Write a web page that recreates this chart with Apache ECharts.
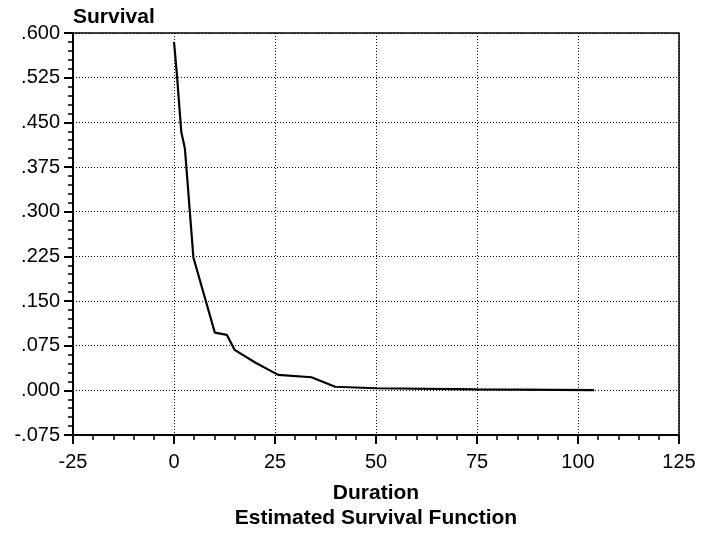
<!DOCTYPE html>
<html>
<head>
<meta charset="utf-8">
<script src="https://cdn.jsdelivr.net/npm/echarts@6/dist/echarts.min.js"></script>
<style>
html,body{margin:0;padding:0;background:#fff;}
#chart{width:701px;height:534px;}
</style>
</head>
<body>
<div id="chart"></div>
<script>
// Data
var durations = [0, 0.7, 1.8, 2.7, 4.8, 10.1, 13.1, 15.0, 20.3, 25.8, 34.0, 39.9, 50, 75, 104];
var survival  = [0.585, 0.532, 0.434, 0.406, 0.223, 0.097, 0.093, 0.068, 0.046, 0.026, 0.022, 0.006, 0.0035, 0.0015, 0.0003];
var xTicks = [-25, 0, 25, 50, 75, 100, 125];
var yTicks = [-0.075, 0, 0.075, 0.15, 0.225, 0.3, 0.375, 0.45, 0.525, 0.6];
var yTitle = 'Survival';
var xTitle = 'Duration';
var chartTitle = 'Estimated Survival Function';

var points = durations.map(function (d, i) { return [d, survival[i]]; });

function fmtY(v) {
  if (Math.abs(v) < 1e-9) return '.000';
  var s = Math.abs(v).toFixed(3).replace(/^0/, '');
  return (v < 0 ? '-' : '') + s;
}

var font = 'Liberation Sans, Arial, sans-serif';
var chart = echarts.init(document.getElementById('chart'), null, {renderer: 'canvas'});
chart.setOption({
  animation: false,
  backgroundColor: '#fff',
  title: {
    text: yTitle,
    left: 73,
    top: 7,
    padding: 0,
    textStyle: {fontFamily: font, fontSize: 21, fontWeight: 'bold', color: '#000'}
  },
  grid: {
    left: 73, right: 22, top: 33, bottom: 99,
    containLabel: false,
    outerBoundsMode: 'none',
    show: true, borderColor: '#000', borderWidth: 1.5, backgroundColor: 'transparent'
  },
  xAxis: {
    type: 'value',
    min: xTicks[0], max: xTicks[xTicks.length - 1], interval: 25,
    name: xTitle + '\n' + chartTitle,
    nameLocation: 'middle',
    nameGap: 46,
    nameTextStyle: {fontFamily: font, fontSize: 21, fontWeight: 'bold', color: '#000', lineHeight: 25, verticalAlign: 'top'},
    axisLine: {show: true, onZero: false, lineStyle: {color: '#000', width: 2}},
    axisTick: {show: true, inside: false, length: 9, lineStyle: {color: '#000', width: 2}},
    minorTick: {show: true, splitNumber: 5, length: 5, lineStyle: {color: '#000', width: 1.5}},
    axisLabel: {fontFamily: font, fontSize: 20, color: '#000', margin: 17},
    splitLine: {show: true, lineStyle: {color: '#000', width: 1, type: [1, 2]}}
  },
  yAxis: {
    type: 'value',
    min: yTicks[0], max: yTicks[yTicks.length - 1], interval: 0.075,
    axisLine: {show: true, onZero: false, lineStyle: {color: '#000', width: 2}},
    axisTick: {show: true, inside: false, length: 9, lineStyle: {color: '#000', width: 2}},
    minorTick: {show: true, splitNumber: 5, length: 5, lineStyle: {color: '#000', width: 1.5}},
    axisLabel: {fontFamily: font, fontSize: 20, color: '#000', margin: 13, formatter: fmtY},
    splitLine: {show: true, lineStyle: {color: '#000', width: 1, type: [1, 2]}}
  },
  series: [{
    type: 'line',
    data: points,
    showSymbol: false,
    symbol: 'none',
    lineStyle: {color: '#000', width: 2.2},
    z: 5
  }]
});
</script>
</body>
</html>
